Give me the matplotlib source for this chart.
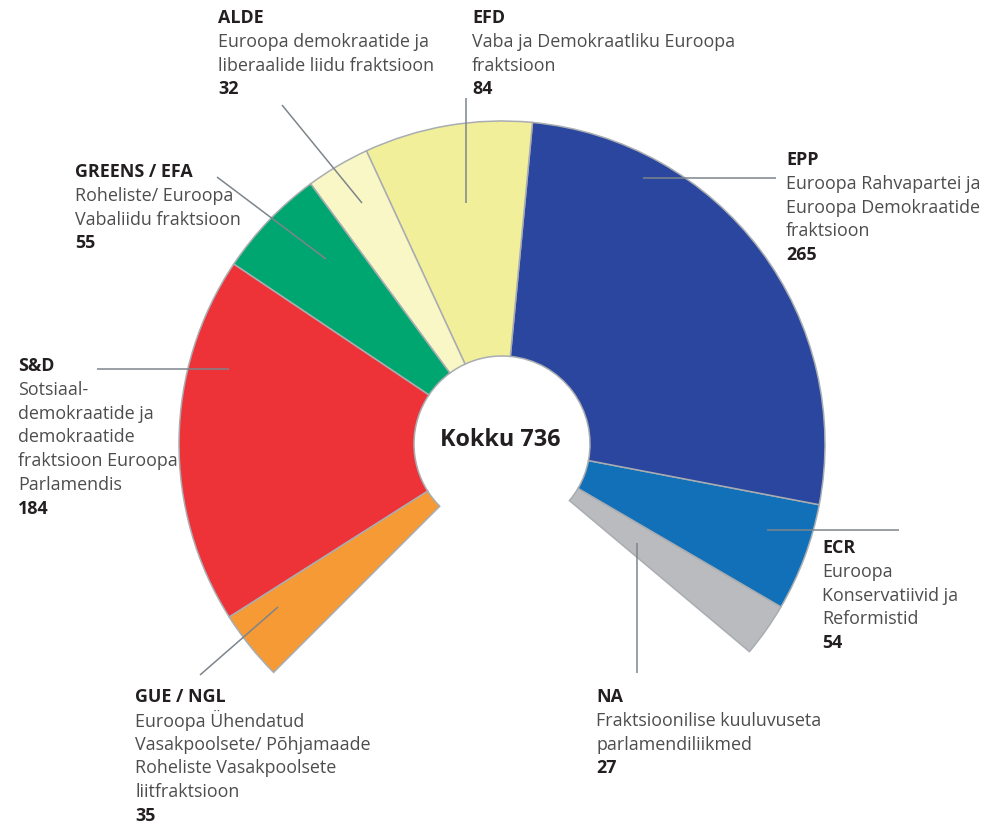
import matplotlib
matplotlib.use("Agg")
import matplotlib.pyplot as plt
import numpy as np

# ---- data (counter-clockwise from the right-hand end of the arc) ----
groups = ["NA", "ECR", "EPP", "EFD", "ALDE", "GREENS / EFA", "S&D", "GUE / NGL"]
seats = [27, 54, 265, 84, 32, 55, 184, 35]
colors = ["#b9bbbe", "#1170b8", "#2a469e", "#f2ef9b", "#f9f7c5", "#00a66f", "#ee3338", "#f59a35"]
descriptions = {
    "ALDE": ["Euroopa demokraatide ja", "liberaalide liidu fraktsioon"],
    "EFD": ["Vaba ja Demokraatliku Euroopa", "fraktsioon"],
    "GREENS / EFA": ["Roheliste/ Euroopa", "Vabaliidu fraktsioon"],
    "EPP": ["Euroopa Rahvapartei ja", "Euroopa Demokraatide", "fraktsioon"],
    "S&D": ["Sotsiaal-", "demokraatide ja", "demokraatide", "fraktsioon Euroopa", "Parlamendis"],
    "ECR": ["Euroopa", "Konservatiivid ja", "Reformistid"],
    "GUE / NGL": ["Euroopa Ühendatud", "Vasakpoolsete/ Põhjamaade", "Roheliste Vasakpoolsete", "liitfraktsioon"],
    "NA": ["Fraktsioonilise kuuluvuseta", "parlamendiliikmed"],
}
total = sum(seats)
center_label = f"Kokku {total}"

# ---- layout ----
W, H = 988, 827
ARC_DEG = 265.0
START = -40.0
CX, CY = 502, H - 444
R_OUT, R_IN = 323, 88

plt.rcParams["font.family"] = ["Open Sans", "DejaVu Sans"]
fig = plt.figure(figsize=(W / 100, H / 100), dpi=100)
ax = fig.add_axes([0, 0, 1, 1])

fracs = [s / total * ARC_DEG / 360.0 for s in seats]
ax.pie(fracs, colors=colors, startangle=START, counterclock=True, normalize=False,
       radius=R_OUT, center=(CX, CY),
       wedgeprops=dict(width=R_OUT - R_IN, edgecolor="#a9adb1", linewidth=1.1))

ax.set_xlim(0, W)
ax.set_ylim(0, H)
ax.set_aspect("equal")
ax.axis("off")

ax.text(CX - 2, CY + 4, center_label, ha="center", va="center", fontsize=16.8,
        fontweight="bold", color="#231f20")

# label block positions (left x, first-line centre y in image pixels)
label_pos = {
    "ALDE": (218, 18), "EFD": (472, 18), "GREENS / EFA": (75, 172), "EPP": (786, 160),
    "S&D": (18, 366), "ECR": (822, 548), "GUE / NGL": (135, 697), "NA": (596, 697),
}
leaders = {
    "ALDE": ((282, 105), (362, 203)), "EFD": ((466, 98), (466, 203)),
    "GREENS / EFA": ((217, 177), (326, 259)), "EPP": ((643, 178), (776, 178)),
    "S&D": ((97, 369), (229, 369)), "ECR": ((767, 530), (899, 530)),
    "GUE / NGL": ((200, 675), (278, 607)), "NA": ((637, 543), (637, 673)),
}
LS = 23.8
for g, s in zip(groups, seats):
    x, y = label_pos[g]
    lines = [g] + descriptions[g] + [str(s)]
    for i, ln in enumerate(lines):
        bold = i == 0 or i == len(lines) - 1
        ax.text(x, H - (y + i * LS), ln, ha="left", va="center", fontsize=12.9,
                fontweight="bold" if bold else "normal",
                color="#231f20" if bold else "#4d4d4f")
    (x0, y0), (x1, y1) = leaders[g]
    ax.plot([x0, x1], [H - y0, H - y1], color="#7d858b", linewidth=1.1,
            solid_capstyle="butt")

fig.savefig("out.png", dpi=100, facecolor="white")
